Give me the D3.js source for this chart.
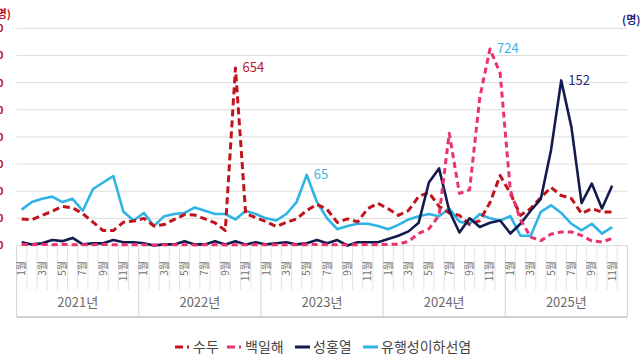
<!DOCTYPE html>
<html><head><meta charset="utf-8">
<script src="https://cdn.jsdelivr.net/npm/d3@7"></script>
<style>
body{margin:0;background:#fff}
svg{display:block}
text{font-family:"Noto Sans CJK KR","Noto Sans",sans-serif}
</style>
</head><body>
<svg id="c" width="640" height="360"></svg>
<script>
// ---- data ----
const years = [2021, 2022, 2023, 2024, 2025];
const monthNums = [1,2,3,4,5,6,7,8,9,10,11,12];
const months = years.flatMap(y => monthNums.map(m => y + "-" + m));
const leftTicks = [0,100,200,300,400,500,600,700,800];
const rightTicks = [0,25,50,75,100,125,150,175,200];
const seriesNames = ["수두", "백일해", "성홍열", "유행성이하선염"];

// 수두 (left axis)
const sudu = [98,95,111,126,144,139,117,86,55,55,86,90,
  100,72,77,96,114,112,98,83,55,654,117,103,
  88,70,85,98,129,151,133,85,98,87,136,155,
  135,111,129,181,195,144,120,111,77,92,158,258,
  192,111,136,177,214,184,173,118,136,123,123];
// 백일해 (left axis)
const pertussis = [4,3,4,3,4,3,3,3,4,3,3,3,
  3,2,3,3,3,2,3,3,2,3,3,3,
  3,3,3,3,3,4,3,3,3,3,4,3,
  4,5,15,45,61,111,413,192,205,545,724,634,
  203,95,31,18,42,50,50,37,17,13,26];
// 성홍열 (right axis)
const scarlet = [3,1,2,5,4,7,1,2,2,5,3,3,
  2,0,1,1,4,1,1,4,1,4,1,3,
  1,2,3,1,2,5,2,5,0,3,3,3,
  6,9,13,21,58,71,32,12,25,17,21,23,
  11,20,32,43,88,152,109,39,57,34,55];
// 유행성이하선염 (right axis)
const mumps = [33,40,43,45,40,43,32,52,58,64,31,23,
  30,18,27,29,30,35,32,29,29,24,32,29,
  25,23,29,40,65,40,25,15,18,20,20,18,
  15,19,24,27,29,27,34,22,20,29,25,23,
  27,9,9,31,37,30,20,14,20,11,17];

const peaks = [
  {series: "수두", idx: 21, value: 654, axis: "L", color: "#c0141c"},
  {series: "유행성이하선염", idx: 28, value: 65, axis: "R", color: "#3bb5e5"},
  {series: "백일해", idx: 46, value: 724, axis: "L", color: "#3bb5e5"},
  {series: "성홍열", idx: 53, value: 152, axis: "R", color: "#1f2a80"}
];

// ---- drawing ----
const svg = d3.select("#c");
const x = d3.scaleBand().domain(months).range([16.6, 627.4]).padding(0);
const yL = d3.scaleLinear().domain([0, 800]).range([245.5, 28.3]);
const yR = d3.scaleLinear().domain([0, 200]).range([245.5, 28.3]);
const cx = i => x(months[i]) + x.bandwidth() / 2;

// gridlines
svg.append("g").selectAll("line").data(leftTicks).join("line")
  .attr("x1", 16.6).attr("x2", 627.4)
  .attr("y1", d => yL(d)).attr("y2", d => yL(d))
  .attr("stroke", "#dcdcdc").attr("stroke-width", 1);

// left axis labels (clipped at edge like the reference)
svg.append("g").selectAll("text").data(leftTicks).join("text")
  .attr("x", 3.5).attr("y", d => yL(d)).attr("dy", "0.36em")
  .attr("text-anchor", "end").attr("font-size", 11).attr("font-weight", 700)
  .attr("fill", "#c0141c").text(d => d);
svg.append("text").attr("x", 11).attr("y", 18).attr("text-anchor", "end")
  .attr("font-size", 11).attr("font-weight", 700).attr("fill", "#c0141c").text("(명)");
svg.append("text").attr("x", 622).attr("y", 24)
  .attr("font-size", 11).attr("font-weight", 700).attr("fill", "#1f2a80").text("(명)");

// x axis structure
const bw = x.bandwidth();
const bounds = d3.range(0, months.length + 1);
svg.append("g").selectAll("line").data(bounds).join("line")
  .attr("x1", i => 16.6 + i * bw).attr("x2", i => 16.6 + i * bw)
  .attr("y1", 245.5).attr("y2", i => (i % 12 === 0) ? 317 : 290)
  .attr("stroke", i => (i % 12 === 0) ? "#d4d4d4" : "#e4e4e4").attr("stroke-width", 1);
svg.append("line").attr("x1", 16.6).attr("x2", 627.4).attr("y1", 317).attr("y2", 317)
  .attr("stroke", "#d0d0d0").attr("stroke-width", 2);

// month labels (odd months)
svg.append("g").selectAll("text").data(months.filter(m => (+m.split("-")[1]) % 2 === 1)).join("text")
  .attr("transform", d => `translate(${x(d) + bw / 2},261) rotate(-90)`)
  .attr("text-anchor", "end").attr("dy", "0.35em")
  .attr("font-size", 10).attr("fill", "#707070")
  .text(d => d.split("-")[1] + "월");

// year labels
svg.append("g").selectAll("text").data(years).join("text")
  .attr("x", y => x(y + "-1") + bw * 6).attr("y", 307)
  .attr("text-anchor", "middle").attr("font-size", 13).attr("fill", "#6a6a6a")
  .text(y => y + "년");

// lines
const lineL = d3.line().x((d, i) => cx(i)).y(d => yL(d));
const lineR = d3.line().x((d, i) => cx(i)).y(d => yR(d));
const styles = [
  {name: "수두", data: sudu, line: lineL, color: "#c0141c", w: 3, dash: "7,4"},
  {name: "백일해", data: pertussis, line: lineL, color: "#e8336f", w: 3, dash: "6,4"},
  {name: "성홍열", data: scarlet, line: lineR, color: "#131a4d", w: 2.6, dash: null},
  {name: "유행성이하선염", data: mumps, line: lineR, color: "#2eb3e6", w: 2.6, dash: null}
];
const drawOrder = [3, 0, 2, 1];
drawOrder.forEach(k => {
  const s = styles[k];
  svg.append("path").attr("d", s.line(s.data))
    .attr("fill", "none").attr("stroke", s.color).attr("stroke-width", s.w)
    .attr("stroke-linejoin", "round")
    .attr("stroke-dasharray", s.dash);
});

// peak labels
svg.append("g").selectAll("text").data(peaks).join("text")
  .attr("x", d => cx(d.idx) + 7)
  .attr("y", d => (d.axis === "L" ? yL(d.value) : yR(d.value)))
  .attr("dy", "0.35em").attr("font-size", 13).attr("fill", d => d.color)
  .text(d => d.value);

// legend
const legX = [175, 227, 295, 363];
const lg = svg.append("g");
styles.forEach((s, k) => {
  lg.append("line").attr("x1", legX[k]).attr("x2", legX[k] + 15)
    .attr("y1", 347).attr("y2", 347)
    .attr("stroke", s.color).attr("stroke-width", 3)
    .attr("stroke-dasharray", s.dash ? "8,4,2,10" : null);
  lg.append("text").attr("x", legX[k] + 18).attr("y", 347).attr("dy", "0.35em")
    .attr("font-size", 14).attr("fill", "#444").text(seriesNames[k]);
});
</script>
</body></html>
